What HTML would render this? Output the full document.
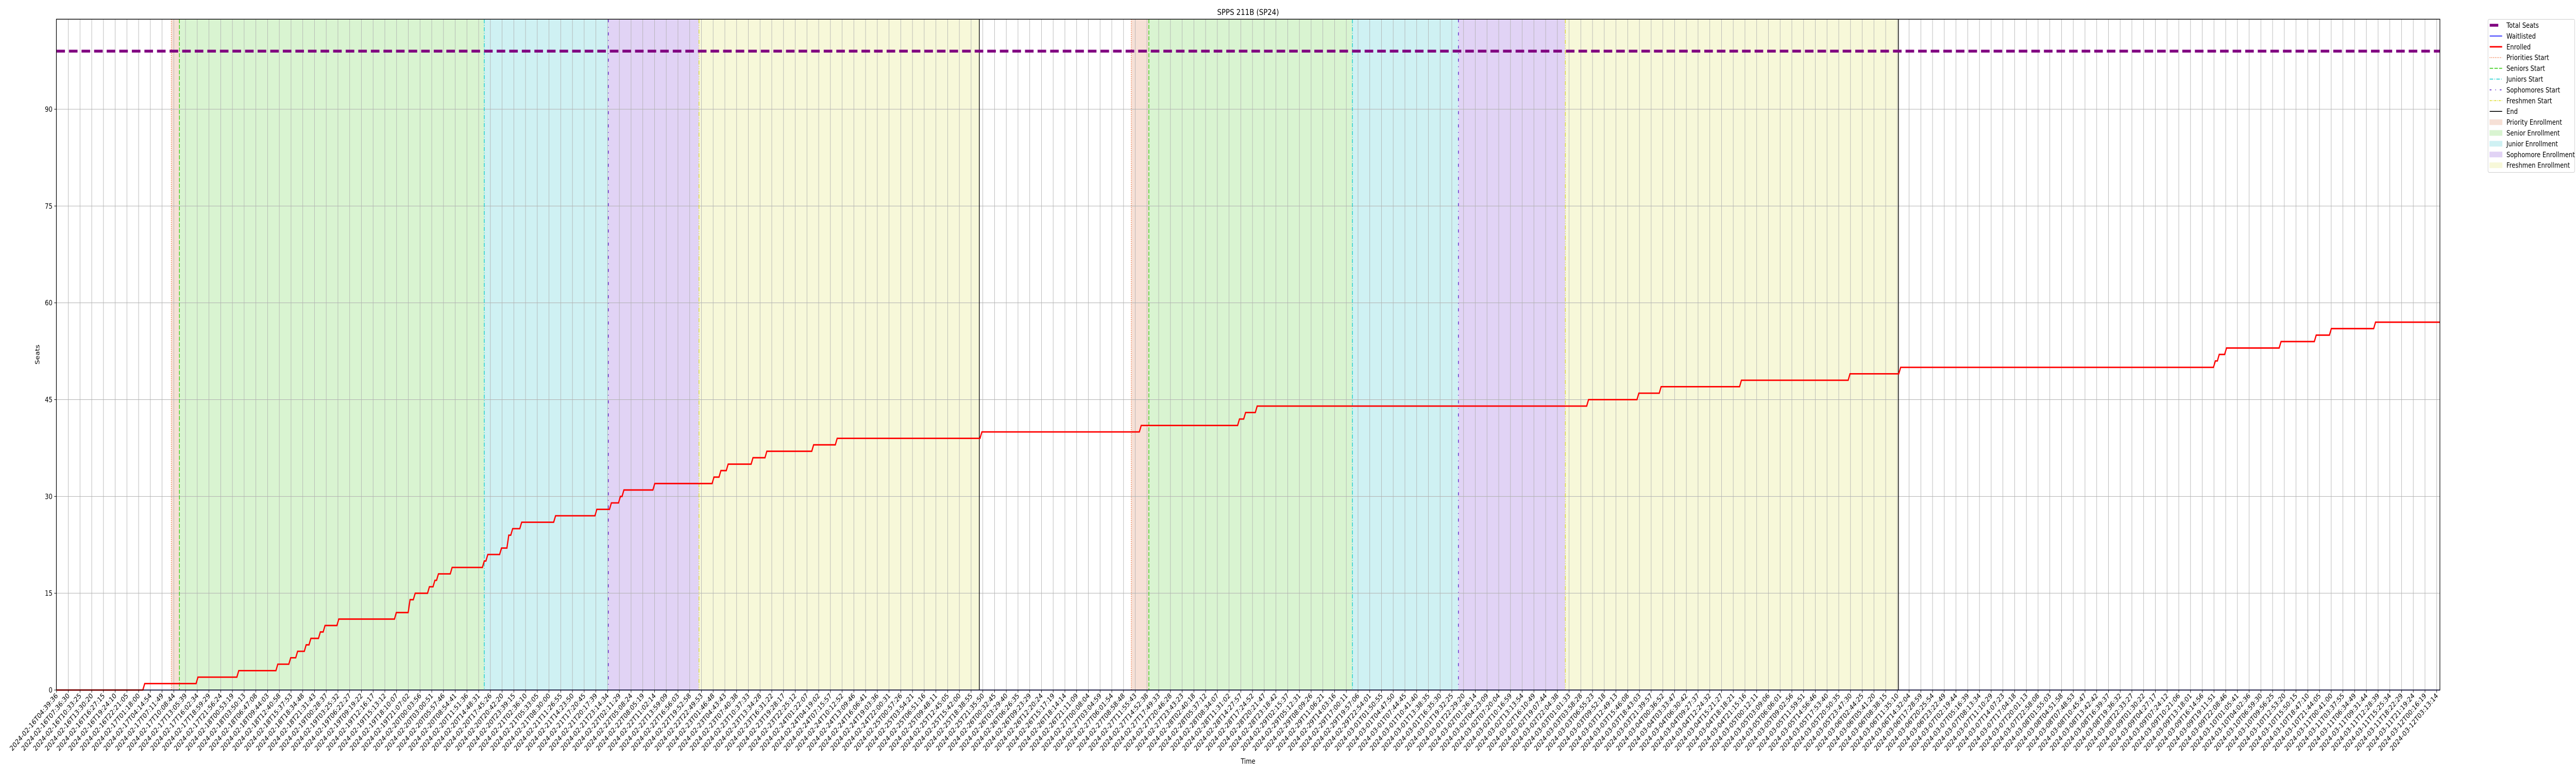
<!DOCTYPE html>
<html><head><meta charset="utf-8"><title>SPPS 211B (SP24)</title>
<style>
html,body{margin:0;padding:0;background:#fff;width:100%;height:100%;overflow:hidden;}
svg{display:block;position:fixed;left:0;top:0;width:100vw;height:100vh;font-family:"DejaVu Sans","Liberation Sans",sans-serif;}
</style></head>
<body>
<svg id="chart" xmlns="http://www.w3.org/2000/svg" viewBox="0 0 6000 1500" preserveAspectRatio="none">
<rect x="0" y="0" width="6000" height="1500" fill="#fff"/>
<g id="spans"></g>
<g id="grid"></g>
<g id="vlines"></g>
<g id="series"></g>
<rect x="131.3" y="37.3" width="5551.7" height="1301.7" fill="none" stroke="#000" stroke-width="1.4"/>
<g id="xticks"></g>
<g id="yticks"></g>
<text x="2907" y="29" text-anchor="middle" font-size="16">SPPS 211B (SP24)</text>
<text x="2907" y="1482" text-anchor="middle" font-size="13.9">Time</text>
<text x="0" y="0" transform="translate(92,688) rotate(-90)" text-anchor="middle" font-size="13.9">Seats</text>
<g id="legend"></g>
</svg>
<script>
// ---- data ----
const totalSeats = 99;
const yMaxValue = 103.95;
const yTickValues = [0, 15, 30, 45, 60, 75, 90];
const enrolledIdx = [0, 7.48, 12.02, 15.50, 18.83, 19.93, 20.52, 21.25, 21.65, 22.46, 22.86, 24.03, 28.94, 30.11, 30.55, 31.76, 32.23, 32.53, 33.70, 36.44, 36.74, 37.91, 38.53, 38.86, 39.63, 42.52, 46.04, 47.28, 48.05, 48.35, 50.98, 56.03, 56.62, 57.24, 59.36, 60.54, 64.53, 66.54, 78.88, 92.47, 100.85, 101.37, 102.36, 130.62, 134.91, 136.81, 143.66, 152.92, 157.24, 184.08, 184.41, 185.03, 189.68, 192.68, 193.97, 197.74];
const enrolledValues = [0, 1, 2, 3, 4, 5, 6, 7, 8, 9, 10, 11, 12, 14, 15, 16, 17, 18, 19, 20, 21, 22, 24, 25, 26, 27, 28, 29, 30, 31, 32, 33, 34, 35, 36, 37, 38, 39, 40, 41, 42, 43, 44, 45, 46, 47, 48, 49, 50, 51, 52, 53, 54, 55, 56, 57];
const waitlistedValues = [0, 0];
const lastIdx = 203.26;
const priorityStarts = [9.79, 91.66];
const seniorStarts = [10.48, 93.16];
const juniorStarts = [36.48, 110.52];
const sophomoreStarts = [47.06, 119.56];
const freshmenStarts = [54.79, 128.68];
const endTimes = [78.70, 157.09];
const tickCount = 204;
const firstTime = "2024-02-16T04:39:36";
const lastTime = "2024-03-12T03:13:14";
const tickLabels = [];
(function(){
  const a = Date.parse(firstTime + "Z"), b = Date.parse(lastTime + "Z");
  for (let i = 0; i < tickCount; i++) {
    const t = new Date(a + (b - a) * i / (tickCount - 1));
    tickLabels.push(t.toISOString().slice(0, 19));
  }
})();

// ---- scales ----
const NS = "http://www.w3.org/2000/svg";
const X0 = 131.7, DX = 27.31, AX_L = 131.3, AX_R = 5683, AX_T = 37.3, AX_B = 1339;
function xs(i){ return X0 + i * DX; }
function ys(v){ return AX_B - v / yMaxValue * (AX_B - AX_T); }
function mk(tag, attrs, parent){
  const e = document.createElementNS(NS, tag);
  for (const k in attrs) e.setAttribute(k, attrs[k]);
  parent.appendChild(e);
  return e;
}

// ---- spans ----
const spans = document.getElementById("spans");
const spanColors = ["#f6e0d6", "#d9f4d1", "#cff1f3", "#e1d3f5", "#f7f8d9"];
const spanNames = ["priority-enrollment-span", "senior-enrollment-span", "junior-enrollment-span", "sophomore-enrollment-span", "freshmen-enrollment-span"];
for (let c = 0; c < 2; c++) {
  const bounds = [priorityStarts[c], seniorStarts[c], juniorStarts[c], sophomoreStarts[c], freshmenStarts[c], endTimes[c]];
  for (let k = 0; k < 5; k++) {
    const r = mk("rect", {x: xs(bounds[k]), y: AX_T, width: xs(bounds[k+1]) - xs(bounds[k]), height: AX_B - AX_T, fill: spanColors[k]}, spans);
    
    
  }
}

// ---- grid ----
const grid = document.getElementById("grid");
for (let i = 0; i < tickCount; i++) {
  const l = mk("line", {x1: xs(i), x2: xs(i), y1: AX_T, y2: AX_B, stroke: "#b0b0b0", "stroke-width": 1}, grid);
  
  
}
yTickValues.forEach(v => {
  const l = mk("line", {x1: AX_L, x2: AX_R, y1: ys(v), y2: ys(v), stroke: "#b0b0b0", "stroke-width": 1}, grid);
  
  
});

// ---- vertical lines ----
const vl = document.getElementById("vlines");
const vdefs = [
  [priorityStarts, "#ee6a33", "1.5,2.6", "priorities-start-line", 1.6],
  [seniorStarts, "#33cc11", "8,3", "seniors-start-line", 1.6],
  [juniorStarts, "#11cccc", "8,3,1.5,3", "juniors-start-line", 1.6],
  [sophomoreStarts, "#6633cc", "6,9,1.5,9", "sophomores-start-line", 1.8],
  [freshmenStarts, "#dddd33", "8,3,1.5,3,1.5,3", "freshmen-start-line", 1.6],
  [endTimes, "#000000", "none", "end-line", 1.6]
];
vdefs.forEach(d => {
  d[0].forEach(i => {
    const l = mk("line", {x1: xs(i), x2: xs(i), y1: AX_T, y2: AX_B, stroke: d[1], "stroke-width": d[4], "stroke-dasharray": d[2]}, vl);
    
    
  });
});

// ---- series ----
const ser = document.getElementById("series");
const ts = mk("line", {x1: AX_L, x2: AX_R, y1: ys(totalSeats), y2: ys(totalSeats), stroke: "#800080", "stroke-width": 5.5, "stroke-dasharray": "20,9.3"}, ser);


const wl = mk("line", {x1: xs(0), x2: xs(lastIdx), y1: ys(waitlistedValues[0]), y2: ys(waitlistedValues[1]), stroke: "#0000ff", "stroke-width": 1.5}, ser);


let pts = [];
for (let k = 0; k < enrolledIdx.length; k++) {
  if (k === 0) { pts.push([xs(enrolledIdx[0]), ys(enrolledValues[0])]); continue; }
  pts.push([xs(enrolledIdx[k] - 0.12), ys(enrolledValues[k-1])]);
  pts.push([xs(enrolledIdx[k] + 0.04), ys(enrolledValues[k])]);
}
pts.push([xs(lastIdx), ys(enrolledValues[enrolledValues.length-1])]);
const en = mk("polyline", {points: pts.map(p => p[0].toFixed(1) + "," + p[1].toFixed(1)).join(" "), fill: "none", stroke: "#ff0000", "stroke-width": 2.8, "stroke-linejoin": "miter"}, ser);



// ---- x ticks ----
const xt = document.getElementById("xticks");
for (let i = 0; i < tickCount; i++) {
  const x = xs(i);
  const t = mk("line", {x1: x, x2: x, y1: AX_B, y2: AX_B + 5, stroke: "#000", "stroke-width": 1}, xt);
  
  
  const tx = mk("text", {x: 0, y: 0, transform: "translate(" + (x + 4) + "," + (AX_B + 12) + ") rotate(-45)", "text-anchor": "end", "font-size": 13.9}, xt);
  tx.textContent = tickLabels[i];
  
  
}
// ---- y ticks ----
const yt = document.getElementById("yticks");
yTickValues.forEach(v => {
  const t = mk("line", {x1: AX_L - 5, x2: AX_L, y1: ys(v), y2: ys(v), stroke: "#000", "stroke-width": 1}, yt);
  
  
  const tx = mk("text", {x: AX_L - 9, y: ys(v) + 5, "text-anchor": "end", "font-size": 13.9}, yt);
  tx.textContent = String(v);
  
  
});

// ---- legend ----
const lg = document.getElementById("legend");
const box = mk("rect", {x: 5795, y: 37.5, width: 202, height: 297, rx: 3, fill: "#fff", stroke: "#cccccc", "stroke-width": 1}, lg);


const legendItems = [
  ["Total Seats", "bar", "#800080", "none"],
  ["Waitlisted", "line", "#0000ff", "none", 1.5],
  ["Enrolled", "line", "#ff0000", "none", 2.8],
  ["Priorities Start", "line", "#ee6a33", "1.5,2.6", 1.6],
  ["Seniors Start", "line", "#33cc11", "8,3", 1.6],
  ["Juniors Start", "line", "#11cccc", "8,3,1.5,3", 1.6],
  ["Sophomores Start", "line", "#6633cc", "4,9,1.5,9", 1.8],
  ["Freshmen Start", "line", "#dddd33", "5,2,1.5,2", 1.6],
  ["End", "line", "#000000", "none", 1.6],
  ["Priority Enrollment", "patch", spanColors[0]],
  ["Senior Enrollment", "patch", spanColors[1]],
  ["Junior Enrollment", "patch", spanColors[2]],
  ["Sophomore Enrollment", "patch", spanColors[3]],
  ["Freshmen Enrollment", "patch", spanColors[4]]
];
legendItems.forEach((it, k) => {
  const cy = 49 + k * 20.9;
  const g = mk("g", {}, lg);
  
  
  if (it[1] === "bar") {
    mk("line", {x1: 5799, x2: 5819, y1: cy, y2: cy, stroke: it[2], "stroke-width": 5.5}, g);
  } else if (it[1] === "line") {
    mk("line", {x1: 5799, x2: 5828, y1: cy, y2: cy, stroke: it[2], "stroke-width": it[4], "stroke-dasharray": it[3]}, g);
  } else {
    mk("rect", {x: 5799, y: cy - 5, width: 29, height: 10, fill: it[2], stroke: it[2]}, g);
  }
  const t = mk("text", {x: 5838, y: cy + 5, "font-size": 13.9}, g);
  t.textContent = it[0];
});
</script>
</body></html>
